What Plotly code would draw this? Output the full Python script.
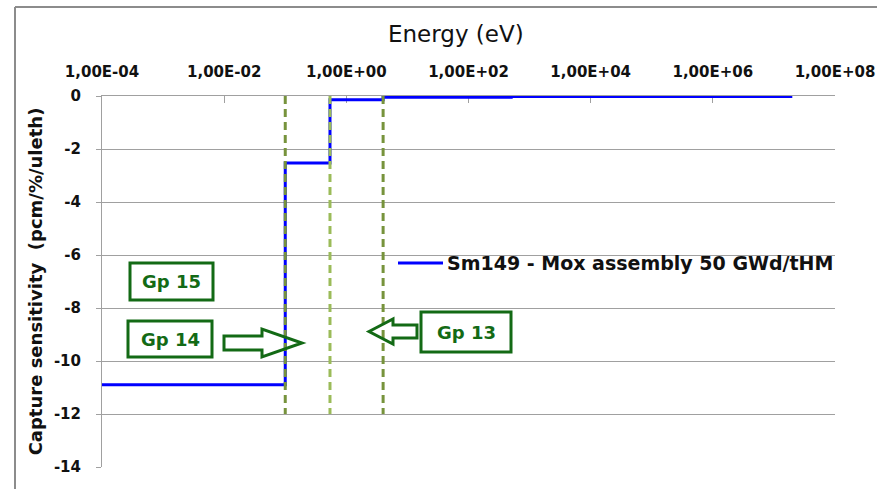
import plotly.graph_objects as go

# Group boundaries (eV) and Sm149 capture sensitivity per group (pcm/%/uleth)
energy_bounds = [1e-4, 0.1, 0.54, 4.0, 500.0, 2.0e7]
sensitivity = [-10.9, -2.53, -0.14, -0.05, -0.02]

# Group limits marked with dashed lines (Gp 15 | Gp 14 | Gp 13 | ...)
group_limits = [0.1, 0.54, 4.0]
limit_colors = ["#77933C", "#9BBB59", "#77933C"]
limit_depth = -12

x_tickvals = [1e-4, 1e-2, 1e0, 1e2, 1e4, 1e6, 1e8]
x_ticktext = ["1,00E-04", "1,00E-02", "1,00E+00", "1,00E+02", "1,00E+04", "1,00E+06", "1,00E+08"]
y_tickvals = [0, -2, -4, -6, -8, -10, -12, -14]
y_ticktext = ["0", "-2", "-4", "-6", "-8", "-10", "-12", "-14"]

series_name = "Sm149 - Mox assembly 50 GWd/tHM"

W, H = 877, 489
L, R, T, B = 102, 835, 96, 467     # axes box in pixels
FONT = "DejaVu Sans"
GREEN = "#136A15"
GRID = "#A0A0A0"
BLUE = "#0000FF"


def px(x):
    return (x - L) / (R - L)


def py(y):
    return (B - y) / (B - T)


fig = go.Figure()

# step curve: last value repeated so the final group is drawn to its upper bound
fig.add_trace(go.Scatter(
    x=energy_bounds,
    y=sensitivity + [sensitivity[-1]],
    mode="lines",
    line=dict(color=BLUE, width=3, shape="hv"),
    name=series_name,
    showlegend=False,
))

for e, c in zip(group_limits, limit_colors):
    fig.add_trace(go.Scatter(
        x=[e, e], y=[0, limit_depth], mode="lines",
        line=dict(color=c, width=3, dash="8px,5px"),
        showlegend=False, hoverinfo="skip",
    ))

shapes = []
annotations = []

# outer chart frame (left and top edges)
shapes.append(dict(type="line", xref="paper", yref="paper",
                   x0=px(15), x1=px(15), y0=py(7), y1=py(H),
                   line=dict(color="#8C8C8C", width=2)))
shapes.append(dict(type="line", xref="paper", yref="paper",
                   x0=px(15), x1=px(W), y0=py(7), y1=py(7),
                   line=dict(color="#8C8C8C", width=2)))

# series key: line sample followed by the series name
shapes.append(dict(type="line", xref="paper", yref="paper",
                   x0=px(398), x1=px(443), y0=py(263), y1=py(263),
                   line=dict(color=BLUE, width=3)))
annotations.append(dict(xref="paper", yref="paper", x=px(445), y=py(263),
                        xanchor="left", yanchor="middle",
                        text=series_name, showarrow=False,
                        font=dict(family=FONT, size=19, color="#111111", weight="bold")))

# group labels in framed boxes
boxes = [("Gp 15", 130, 263, 213, 300), ("Gp 14", 128, 321, 212, 357), ("Gp 13", 421, 312, 511, 352)]
for label, x0, y0, x1, y1 in boxes:
    shapes.append(dict(type="rect", xref="paper", yref="paper", layer="below",
                       x0=px(x0), x1=px(x1), y0=py(y0), y1=py(y1),
                       line=dict(color=GREEN, width=3), fillcolor="white"))
    annotations.append(dict(xref="paper", yref="paper",
                            x=px((x0 + x1) / 2), y=py((y0 + y1) / 2),
                            xanchor="center", yanchor="middle",
                            text=label, showarrow=False,
                            font=dict(family=FONT, size=18, color=GREEN, weight="bold")))


def block_arrow(pts):
    d = "M " + " L ".join(f"{px(a):.5f},{py(b):.5f}" for a, b in pts) + " Z"
    return dict(type="path", xref="paper", yref="paper", path=d,
                line=dict(color=GREEN, width=3), fillcolor="rgba(0,0,0,0)")


# arrow pointing right from Gp 14 box
shapes.append(block_arrow([(224, 336), (262, 336), (262, 329), (302, 343),
                           (262, 357), (262, 350), (224, 350)]))
# arrow pointing left from Gp 13 box
shapes.append(block_arrow([(369, 331.5), (393, 319), (393, 325), (417, 325),
                           (417, 338), (393, 338), (393, 344)]))

# x axis title above the top tick labels
annotations.append(dict(xref="paper", yref="paper", x=px(456), y=py(34),
                        xanchor="center", yanchor="middle",
                        text="Energy (eV)", showarrow=False,
                        font=dict(family=FONT, size=23, color="#111111")))

fig.update_layout(
    width=W, height=H, autosize=False,
    margin=dict(l=L, r=W - R, t=T, b=H - B, pad=0),
    paper_bgcolor="white", plot_bgcolor="rgba(0,0,0,0)",
    font=dict(family=FONT, color="#111111"),
    shapes=shapes, annotations=annotations,
    showlegend=False,
)

# fixed margins: the long end tick label must not shrink the axes box
fig.update_xaxes(
    type="log", range=[-4, 8], side="top", automargin=False,
    tickvals=x_tickvals, ticktext=x_ticktext,
    ticks="inside", ticklen=7, tickcolor=GRID, tickwidth=1,
    showline=True, linecolor=GRID, linewidth=1,
    showgrid=False, zeroline=False, layer="below traces",
    ticklabelstandoff=12,
    tickfont=dict(family=FONT, size=15, color="#111111", weight="bold"),
)

fig.update_yaxes(
    range=[-14, 0], automargin=False,
    tickvals=y_tickvals, ticktext=y_ticktext,
    ticks="outside", ticklen=5, tickcolor=GRID, tickwidth=1,
    showline=True, linecolor=GRID, linewidth=1,
    showgrid=True, gridcolor=GRID, gridwidth=1, zeroline=False,
    ticklabelstandoff=12,
    tickfont=dict(family=FONT, size=15, color="#111111", weight="bold"),
    title=dict(text="Capture sensitivity  (pcm/%/uleth)", standoff=6,
               font=dict(family=FONT, size=18, color="#111111", weight="bold")),
)

fig.write_html("out.html")
